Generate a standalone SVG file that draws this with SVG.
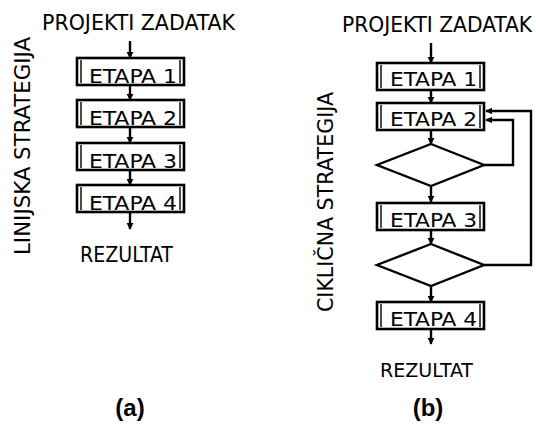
<svg xmlns="http://www.w3.org/2000/svg" width="536" height="427" viewBox="0 0 536 427">
  <style>
    .lbl { font-family: "DejaVu Sans Condensed", "DejaVu Sans", "Liberation Sans", sans-serif; font-stretch: condensed; fill: #000; }
    .box { fill: #fff; stroke: #000; stroke-width: 2.6; }
    .inner { stroke: #000; stroke-width: 1.4; }
    .dia { fill: #fff; stroke: #000; stroke-width: 2.4; stroke-linejoin: miter; }
    .con { fill: none; stroke: #000; stroke-width: 2.4; marker-end: url(#arr); }
    .cap { font-family: "Liberation Sans", Arial, sans-serif; font-weight: bold; font-size: 24px; fill: #000; }
  </style>
  <defs>
    <marker id="arr" viewBox="0 0 10 10" refX="9" refY="5" markerWidth="3" markerHeight="3" orient="auto" markerUnits="strokeWidth">
      <path d="M0,0 L10,5 L0,10 Z" fill="#000"/>
    </marker>
    <g id="stage">
      <rect class="box" x="0" y="0" width="107" height="27"/>
      <line class="inner" x1="4" y1="2" x2="4" y2="25"/>
      <line class="inner" x1="103" y1="2" x2="103" y2="25"/>
    </g>
  </defs>

  <rect width="536" height="427" fill="#fff"/>

  <!-- (a) linear strategy -->
  <text class="lbl" x="42" y="30" font-size="22" textLength="193" lengthAdjust="spacingAndGlyphs">PROJEKTI ZADATAK</text>
  <text class="lbl" transform="translate(30,146) rotate(-90)" text-anchor="middle" font-size="21" textLength="218" lengthAdjust="spacingAndGlyphs">LINIJSKA STRATEGIJA</text>

  <g id="connectors-a">
    <line class="con" x1="130" y1="41" x2="130" y2="58"/>
    <line class="con" x1="130" y1="86" x2="130" y2="100"/>
    <line class="con" x1="130" y1="128" x2="130" y2="143"/>
    <line class="con" x1="130" y1="171" x2="130" y2="185"/>
    <line class="con" x1="130" y1="213" x2="130" y2="229"/>
  </g>

  <g id="a-etapa1">
    <use href="#stage" x="77" y="58"/>
    <text class="lbl" x="89" y="83" font-size="20" textLength="88" lengthAdjust="spacingAndGlyphs">ETAPA 1</text>
  </g>
  <g id="a-etapa2">
    <use href="#stage" x="77" y="100"/>
    <text class="lbl" x="89" y="125" font-size="20" textLength="88" lengthAdjust="spacingAndGlyphs">ETAPA 2</text>
  </g>
  <g id="a-etapa3">
    <use href="#stage" x="77" y="143"/>
    <text class="lbl" x="89" y="168" font-size="20" textLength="88" lengthAdjust="spacingAndGlyphs">ETAPA 3</text>
  </g>
  <g id="a-etapa4">
    <use href="#stage" x="77" y="185"/>
    <text class="lbl" x="89" y="210" font-size="20" textLength="88" lengthAdjust="spacingAndGlyphs">ETAPA 4</text>
  </g>
  <text class="lbl" x="80" y="262" font-size="22" textLength="93" lengthAdjust="spacingAndGlyphs">REZULTAT</text>

  <!-- (b) cyclic strategy -->
  <text class="lbl" x="342" y="32" font-size="22" textLength="190" lengthAdjust="spacingAndGlyphs">PROJEKTI ZADATAK</text>
  <text class="lbl" transform="translate(333,202) rotate(-90)" text-anchor="middle" font-size="21" textLength="220" lengthAdjust="spacingAndGlyphs">CIKLIČNA STRATEGIJA</text>

  <g id="connectors-b">
    <line class="con" x1="431" y1="43" x2="431" y2="63"/>
    <line class="con" x1="431" y1="90" x2="431" y2="103"/>
    <line class="con" x1="431" y1="130" x2="431" y2="144"/>
    <line class="con" x1="431" y1="186" x2="431" y2="202"/>
    <line class="con" x1="431" y1="230" x2="431" y2="244"/>
    <line class="con" x1="431" y1="286" x2="431" y2="302"/>
    <line class="con" x1="431" y1="330" x2="431" y2="344"/>
    <polyline class="con" points="484,165 513,165 513,120 486,120"/>
    <polyline class="con" points="484,265 531,265 531,111 486,111"/>
  </g>

  <g id="b-etapa1">
    <use href="#stage" x="377" y="63"/>
    <text class="lbl" x="390" y="86" font-size="20" textLength="87" lengthAdjust="spacingAndGlyphs">ETAPA 1</text>
  </g>
  <g id="b-etapa2">
    <use href="#stage" x="377" y="103"/>
    <text class="lbl" x="390" y="126" font-size="20" textLength="87" lengthAdjust="spacingAndGlyphs">ETAPA 2</text>
  </g>
  <g id="b-decision1">
    <polygon class="dia" points="431,144 484,165 431,186 377,165"/>
  </g>
  <g id="b-etapa3">
    <use href="#stage" x="377" y="203"/>
    <text class="lbl" x="390" y="227" font-size="20" textLength="87" lengthAdjust="spacingAndGlyphs">ETAPA 3</text>
  </g>
  <g id="b-decision2">
    <polygon class="dia" points="431,244 484,265 431,286 377,265"/>
  </g>
  <g id="b-etapa4">
    <use href="#stage" x="377" y="302"/>
    <text class="lbl" x="390" y="326" font-size="20" textLength="87" lengthAdjust="spacingAndGlyphs">ETAPA 4</text>
  </g>
  <text class="lbl" x="380" y="377" font-size="20" textLength="93" lengthAdjust="spacingAndGlyphs">REZULTAT</text>

  <text class="cap" x="130" y="416" text-anchor="middle">(a)</text>
  <text class="cap" x="428" y="416" text-anchor="middle">(b)</text>
</svg>
